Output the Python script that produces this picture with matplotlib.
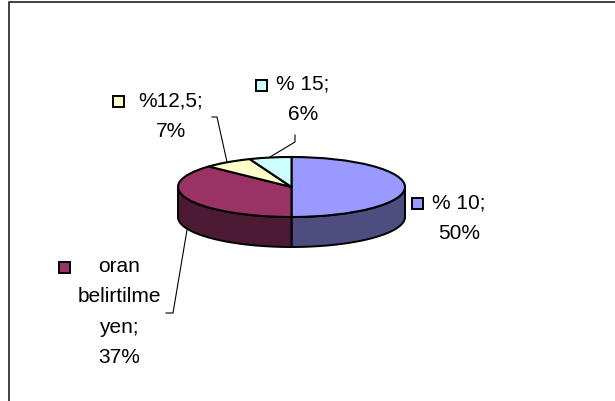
import numpy as np
import matplotlib
matplotlib.use("Agg")
import matplotlib.pyplot as plt
from matplotlib.patches import Rectangle, Polygon

plt.rcParams['font.family'] = ['Liberation Sans', 'DejaVu Sans']

labels = ["% 10;\n50%", "oran\nbelirtilme\nyen;\n37%", "%12,5;\n7%", "% 15;\n6%"]
values = [50, 37, 7, 6]
colors = ["#9999FF", "#993366", "#FFFFCC", "#CCFFFF"]
side_colors = ["#4D4D80", "#4D1A33", "#808066", "#668080"]

W, H = 615, 401
fig = plt.figure(figsize=(W / 100, H / 100), dpi=100, facecolor="white")

# overlay in pixel coordinates
ov = fig.add_axes([0, 0, 1, 1], zorder=3)
ov.set_xlim(0, W)
ov.set_ylim(H, 0)
ov.axis("off")
ov.patch.set_alpha(0)

# frame
ov.plot([9, 9, 614.5], [H, 1.5, 1.5], color="#333333", lw=1.3, solid_capstyle="butt")

# pie: top ellipse spans y -1..1 (60 px), the wall extends one unit (30 px) below it
L, R, T, B = 178, 405, 157, 247
pie_ax = fig.add_axes([L / W, 1 - B / H, (R - L) / W, (B - T) / H], zorder=2)

depth = 1.0
fr = np.cumsum([0] + values) / sum(values)
for i, c in enumerate(side_colors):
    a0, a1 = fr[i] * 2 * np.pi, fr[i + 1] * 2 * np.pi   # clockwise from top
    lo, hi = max(a0, np.pi / 2), min(a1, 3 * np.pi / 2)
    if hi <= lo:
        continue
    t = np.linspace(lo, hi, 80)
    x, y = np.sin(t), np.cos(t)
    pts = np.r_[np.c_[x, y], np.c_[x[::-1], y[::-1] - depth]]
    pie_ax.add_patch(Polygon(pts, closed=True, fc=c, ec="black", lw=1.4, joinstyle="round"))

pie_ax.pie(values, colors=colors, startangle=90, counterclock=False, radius=1,
           wedgeprops=dict(edgecolor="black", linewidth=1.5))
pie_ax.set_aspect("auto")
pie_ax.set_xlim(-1, 1)
pie_ax.set_ylim(-1 - depth, 1)
pie_ax.axis("off")
pie_ax.patch.set_alpha(0)
for a in pie_ax.patches:
    a.set_clip_on(False)

# data labels
FS = 15
text_pos = [(459, 218), (119, 312), (171, 116), (303, 99)]
for lab, (x, y) in zip(labels, text_pos):
    ov.text(x, y, lab, ha="center", va="center", fontsize=FS, color="black",
            linespacing=1.76, multialignment="center")

# legend keys
key_pos = [(417, 203), (64, 267), (118, 101), (261, 85)]
for c, (x, y) in zip(colors, key_pos):
    ov.add_patch(Rectangle((x - 5.5, y - 5.5), 11, 11, fc=c, ec="black", lw=1.4))

# leader lines
leaders = [
    ([187, 173, 166], [230, 313, 313]),
    ([227, 217, 212], [162, 117, 117]),
    ([270, 295, 295], [157, 142, 135]),
]
for xs, ys in leaders:
    ov.plot(xs, ys, color="black", lw=0.8)

fig.savefig("out.png", dpi=100)
